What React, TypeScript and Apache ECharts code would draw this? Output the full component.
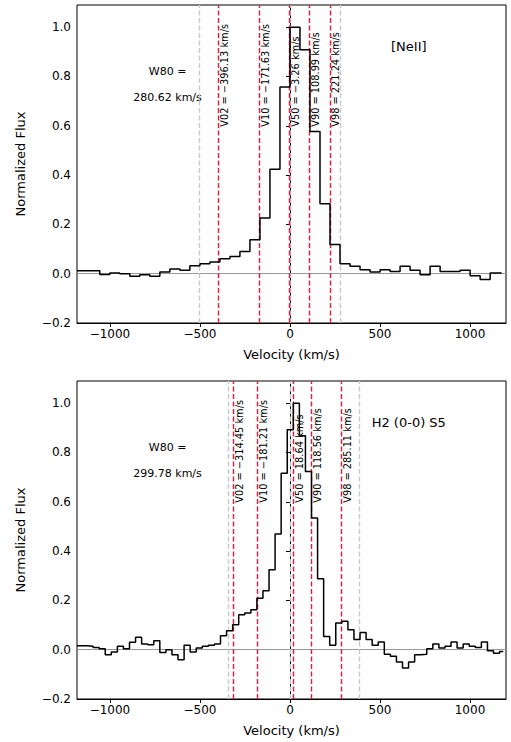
import React, { useEffect, useRef } from "react";
import * as echarts from "echarts";

const topBinWidth = 55.6;
const topFirstEdge = -22 * 55.6;
const topLastEdge = 1176;
const topFlux = [0.012,0.012,0.012,-0.003,0.003,0,-0.01,-0.004,-0.01,0.007,0.019,0.014,0.032,0.04,0.047,0.061,0.07,0.09,0.138,0.226,0.424,0.757,1.0,0.908,0.577,0.284,0.118,0.04,0.03,0.016,0.007,0.016,0.009,0.03,0.014,-0.004,0.03,0.009,0.009,0.014,-0.008,-0.024,0.003,0.003];
const botBinWidth = 33.7;
const botFirstEdge = 18.5 - 36 * 33.7;
const botLastEdge = 1185;
const botFlux = [0.016,0.016,0.014,0.009,0.004,-0.020,-0.009,0.014,0.004,0.030,0.050,0.023,0.020,0.036,-0.011,0,-0.020,-0.041,0.018,-0.009,0.007,0.014,0.018,0.023,0.057,0.077,0.101,0.142,0.149,0.162,0.209,0.239,0.324,0.469,0.716,0.892,1.0,0.868,0.723,0.534,0.288,0.054,0.018,0.108,0.115,0.081,0.041,0.070,0.041,0.018,0.031,-0.018,-0.027,-0.050,-0.074,-0.050,-0.020,-0.018,0.004,0.023,0.007,0.014,0.031,0.007,0.023,0.014,0.009,0.031,-0.004,-0.014,-0.007];

const topRed = [-396.13, -171.63, -3.26, 108.99, 221.24];
const botRed = [-314.45, -181.21, 18.64, 118.56, 285.11];
const redNames = ["V02", "V10", "V50", "V90", "V98"];
const topGray = [-504, 0, 278];
const botGray = [-344, 0, 385];
const topW80 = "280.62";
const botW80 = "299.78";
const topTitle = "[NeII]";
const botTitle = "H2 (0-0) S5";
const xTicks = [-1000, -500, 0, 500, 1000];
const yTicks = [-0.2, 0, 0.2, 0.4, 0.6, 0.8, 1.0];

const X_MIN = -1183, X_MAX = 1200, Y_MIN = -0.2, Y_MAX = 1.09;
const FONT = "DejaVu Sans";

function steps(first: number, w: number, last: number, vals: number[]) {
  const pts: number[][] = [];
  vals.forEach((v, i) => {
    const a = Math.max(first + i * w, X_MIN);
    const b = Math.min(first + (i + 1) * w, last);
    pts.push([a, v], [b, v]);
  });
  return pts;
}
const minus = (s: string) => s.replace("-", "\u2212");

export default function App() {
  const ref = useRef<HTMLDivElement>(null);
  useEffect(() => {
    document.body.style.margin = "0";
    const chart = echarts.init(ref.current!, null, { renderer: "svg" });
    const grids = [
      { left: 77, right: 5, top: 5, height: 318 },
      { left: 77, right: 5, top: 381, height: 318 },
    ];
    const mkX = (i: number) => ({
      type: "value", gridIndex: i, min: X_MIN, max: X_MAX,
      name: "Velocity (km/s)", nameLocation: "middle", nameGap: 25,
      nameTextStyle: { fontFamily: FONT, fontSize: 13, color: "#000" },
      axisLine: { onZero: false, lineStyle: { color: "#000" } },
      axisTick: { show: true, customValues: xTicks, length: 4, lineStyle: { color: "#000" } },
      axisLabel: { customValues: xTicks, fontFamily: FONT, fontSize: 12, color: "#000", margin: 5, formatter: (v: number) => minus(String(v)) },
      splitLine: { show: false },
    });
    const mkY = (i: number) => ({
      type: "value", gridIndex: i, min: Y_MIN, max: Y_MAX,
      name: "Normalized Flux", nameLocation: "middle", nameGap: 50,
      nameTextStyle: { fontFamily: FONT, fontSize: 13, color: "#000" },
      axisLine: { show: true, lineStyle: { color: "#000" } },
      axisTick: { show: true, customValues: yTicks, length: 4, lineStyle: { color: "#000" } },
      axisLabel: { customValues: yTicks, fontFamily: FONT, fontSize: 12, color: "#000", margin: 6, formatter: (v: number) => minus(v.toFixed(1)) },
      splitLine: { show: false },
    });
    const vline = (x: number, color: string, w: number) => ({ xAxis: x, lineStyle: { color, type: [5, 2.5] as any, width: w } });
    const panel = (i: number, pts: number[][], red: number[], gray: number[]) => [
      {
        type: "line", xAxisIndex: i, yAxisIndex: i, data: pts, symbol: "none",
        lineStyle: { color: "#000", width: 1.5 }, z: 5,
        markLine: {
          silent: true, symbol: "none", label: { show: false },
          data: [
            { yAxis: 0, lineStyle: { color: "#999", type: "solid", width: 1 } },
            ...gray.map((g) => vline(g, "#c8c8c8", 1.4)),
            ...red.map((r) => vline(r, "#e8173f", 1.4)),
          ],
        },
      },
    ];
    chart.setOption({
      animation: false,
      grid: grids.map((g) => ({ ...g, show: true, borderColor: "#000", borderWidth: 1, backgroundColor: "transparent" })),
      xAxis: [mkX(0), mkX(1)],
      yAxis: [mkY(0), mkY(1)],
      series: [
        ...panel(0, steps(topFirstEdge, topBinWidth, topLastEdge, topFlux), topRed, topGray),
        ...panel(1, steps(botFirstEdge, botBinWidth, botLastEdge, botFlux), botRed, botGray),
      ],
    });
    const texts: any[] = [];
    const add = (i: number, red: number[], w80: string, title: string) => {
      const yBase = chart.convertToPixel({ gridIndex: i } as any, [0, 0.6])[1] + 1;
      red.forEach((r, k) => {
        const px = chart.convertToPixel({ gridIndex: i } as any, [r, 0])[0];
        texts.push({
          type: "text", x: px + 1, y: yBase, rotation: Math.PI / 2,
          style: { text: `${redNames[k]} = ${r.toFixed(2)} km/s`.replace("= -", "= \u2212"), fontFamily: FONT, fontSize: 9.8, fill: "#000", align: "left", verticalAlign: "top" },
        });
      });
      const [wx, wy] = chart.convertToPixel({ gridIndex: i } as any, [-680, 0.82]);
      texts.push({ type: "text", x: wx, y: wy, style: { text: "W80 =", fontFamily: FONT, fontSize: 11, fill: "#000", align: "center", verticalAlign: "middle" } });
      texts.push({ type: "text", x: wx, y: wy + 26, style: { text: `${w80} km/s`, fontFamily: FONT, fontSize: 11, fill: "#000", align: "center", verticalAlign: "middle" } });
      const [tx, ty] = chart.convertToPixel({ gridIndex: i } as any, [660, 0.92]);
      texts.push({ type: "text", x: tx, y: ty, style: { text: title, fontFamily: FONT, fontSize: 13, fill: "#000", align: "center", verticalAlign: "middle" } });
    };
    add(0, topRed, topW80, topTitle);
    add(1, botRed, botW80, botTitle);
    chart.setOption({ graphic: texts });
    return () => chart.dispose();
  }, []);
  return <div ref={ref} style={{ width: 511, height: 742 }} />;
}
